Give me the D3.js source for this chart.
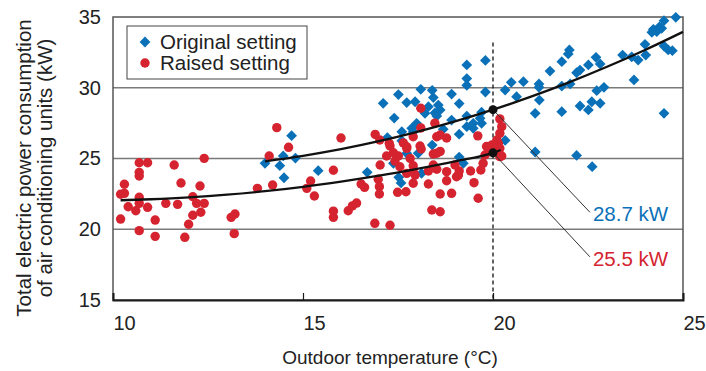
<!DOCTYPE html>
<html>
<head>
<meta charset="utf-8">
<script src="https://cdn.jsdelivr.net/npm/d3@7"></script>
<style>
  body { margin: 0; background: #fff; }
  svg { display: block; font-family: 'Liberation Sans', Arial, sans-serif; }
</style>
</head>
<body>
<svg id="chart"></svg>
<script>
// Original setting (outdoor temp °C, total power kW)
const originalX = [14.0, 14.48, 14.70, 14.80, 14.39, 14.50, 15.40, 16.69, 17.52, 17.58, 18.40, 19.11, 19.22, 20.32, 17.38, 17.73, 18.12,
  19.31, 19.80, 19.31, 19.31, 19.80, 20.32, 20.48, 20.62, 17.11, 17.51, 17.40, 17.73, 17.95, 18.10, 18.40, 18.43, 18.30, 18.56, 18.61,
  18.47, 18.52, 18.91, 19.11, 17.99, 17.86, 18.21, 18.69, 18.91, 19.11, 19.31, 19.48, 19.48, 19.70, 19.70, 19.66, 19.31, 17.60, 17.90,
  17.22, 17.60, 18.03,
  24.81, 24.50, 24.38, 24.22, 24.18, 24.31, 24.44, 24.50, 24.61, 24.72, 24.50, 24.00, 24.02, 23.82, 23.65, 23.41, 23.71, 22.82, 22.71,
  22.51, 22.29, 22.20, 22.01, 21.98, 21.81, 21.50, 20.80, 21.21, 21.21, 21.22, 21.11, 21.81, 22.03, 21.81, 22.29, 22.51, 22.60, 22.82,
  22.73, 22.92, 21.11, 22.20, 22.61];
const originalY = [24.66, 25.18, 26.61, 25.03, 24.49, 23.64, 24.14, 24.02, 23.67, 23.27, 25.95, 25.10, 24.66, 26.28, 24.66, 25.37, 23.95,
  31.61, 31.93, 30.65, 30.17, 29.70, 29.84, 30.38, 29.37, 28.90, 29.52, 27.86, 28.95, 29.01, 29.89, 29.82, 29.31, 28.66, 28.78, 28.43,
  28.22, 28.00, 29.55, 28.88, 27.49, 27.13, 28.19, 27.07, 27.72, 26.72, 27.25, 27.49, 27.13, 27.49, 28.27, 27.84, 28.00, 26.89, 26.89,
  26.48, 26.26, 25.37,
  34.98, 34.74, 34.31, 34.13, 33.92, 33.96, 34.20, 32.95, 32.67, 32.62, 28.19, 33.07, 32.31, 31.96, 32.19, 32.31, 30.55, 31.68, 32.15,
  31.61, 31.25, 31.06, 32.67, 32.39, 31.84, 31.18, 30.43, 30.27, 30.03, 29.13, 28.19, 30.12, 30.27, 28.31, 28.71, 28.43, 29.01, 28.90,
  29.79, 30.03, 25.46, 25.22, 24.42];

// Raised setting
const raisedX = [10.20, 10.20, 10.30, 10.30, 10.40, 10.60, 10.69, 10.91, 10.69, 10.69, 10.69, 10.69, 10.69, 10.91, 11.11, 11.11, 11.39,
  11.61, 11.70, 11.79, 11.89, 11.99, 12.10, 12.10, 12.20, 12.29, 12.31, 12.40, 12.40, 13.11, 13.21, 13.19, 13.80, 14.11, 14.20, 14.31,
  14.62, 15.20, 15.10, 15.30, 16.00, 15.80, 15.80, 15.80, 16.19, 16.30, 16.41, 16.53, 16.62, 16.89, 17.29, 16.90, 17.02, 17.27, 17.73,
  17.64, 18.10, 18.10, 18.47, 18.61, 18.78, 18.52, 18.11, 18.52, 19.60, 20.18, 20.23, 20.18, 20.10, 19.83, 20.01, 20.18, 20.23, 20.14,
  20.05, 17.03, 16.98, 17.01, 17.01, 17.49, 17.71, 17.90, 17.29, 17.38, 17.42, 17.51, 17.73, 17.82, 17.90, 18.08, 18.30, 18.30, 18.39,
  18.61, 18.61, 18.52, 18.61, 18.78, 18.91, 19.04, 19.11, 19.41, 19.50, 19.61, 19.68, 19.74, 19.97, 20.10, 20.18, 19.79, 17.20, 17.55,
  17.73, 17.95, 17.90, 18.43, 18.43, 18.78, 19.09, 19.00, 19.88, 17.90];
const raisedY = [20.72, 22.47, 23.18, 22.54, 21.59, 21.31, 24.70, 24.70, 24.02, 23.76, 22.26, 21.83, 19.90, 21.55, 20.65, 19.50, 21.83,
  24.54, 21.76, 23.27, 19.43, 20.35, 22.30, 20.99, 21.83, 23.06, 21.20, 25.01, 21.83, 20.84, 21.08, 19.69, 22.89, 25.18, 23.13, 27.18,
  25.79, 23.41, 22.89, 22.35, 26.45, 24.17, 21.28, 20.84, 21.31, 21.65, 21.85, 23.20, 22.96, 20.42, 20.28, 26.70, 26.31, 26.07, 25.83,
  26.10, 28.55, 27.16, 27.50, 26.66, 26.45, 26.54, 25.67, 25.37, 26.60, 27.80, 27.25, 26.78, 26.31, 25.85, 25.48, 25.72, 25.18, 26.07,
  25.72, 24.54, 23.53, 23.01, 22.49, 22.61, 22.65, 23.25, 25.88, 25.41, 24.82, 25.18, 25.72, 25.00, 24.07, 25.88, 24.12, 23.20, 21.36,
  21.24, 22.49, 24.24, 25.50, 23.43, 22.54, 23.71, 24.12, 24.12, 23.29, 22.19, 24.19, 24.66, 25.95, 25.48, 25.13, 25.25, 25.18, 24.42,
  23.95, 23.83, 24.49, 24.54, 25.32, 24.07, 23.83, 24.54, 25.48, 26.54];

// fitted curves
const curveOrigX = [14, 15, 16, 17, 18, 19, 20, 21, 22, 23, 24, 25];
const curveOrigY = [24.8, 25.19, 25.66, 26.22, 26.88, 27.62, 28.45, 29.37, 30.38, 31.48, 32.67, 33.95];
const curveRaisedX = [10.2, 11, 12, 13, 14, 15, 16, 17, 18, 19, 20, 20.2];
const curveRaisedY = [22.05, 22.12, 22.25, 22.44, 22.69, 23.0, 23.37, 23.79, 24.27, 24.8, 25.4, 25.6];

const xTicks = [10, 15, 20, 25];
const yTicks = [15, 20, 25, 30, 35];
const gridY = [20, 25, 30];

const markTemp = 20;
const markValues = [28.45, 25.4];
const markLabels = ['28.7 kW', '25.5 kW'];
const labelPoints = [[22.55, 21.2], [22.55, 18.05]];

const blue = '#0a71b9';
const red = '#d52430';

const width = 706, height = 371;
const margin = { top: 17, right: 23, bottom: 71, left: 113 };

const svg = d3.select('#chart')
  .attr('width', width)
  .attr('height', height);

const x = d3.scaleLinear().domain([10, 25]).range([margin.left, width - margin.right]);
const y = d3.scaleLinear().domain([15, 35]).range([height - margin.bottom, margin.top]);

// gridlines
svg.append('g')
  .selectAll('line')
  .data(gridY)
  .enter().append('line')
  .attr('x1', x(10)).attr('x2', x(25))
  .attr('y1', d => y(d)).attr('y2', d => y(d))
  .attr('stroke', '#7a7a7a')
  .attr('stroke-width', 1.5);

// frame
svg.append('rect')
  .attr('x', x(10)).attr('y', y(35))
  .attr('width', x(25) - x(10)).attr('height', y(15) - y(35))
  .attr('fill', 'none')
  .attr('stroke', '#555')
  .attr('stroke-width', 1.5);

const xAxis = svg.append('g')
  .attr('transform', 'translate(0,' + y(15) + ')')
  .call(d3.axisBottom(x).tickValues(xTicks).tickSize(-7).tickFormat(d3.format('d')));
xAxis.select('.domain').attr('stroke', '#1a1a1a').attr('stroke-width', 2);
xAxis.selectAll('.tick line').attr('stroke', '#1a1a1a').attr('stroke-width', 1.2);
xAxis.selectAll('.tick text')
  .attr('font-size', 20)
  .attr('fill', '#222')
  .attr('font-family', 'Liberation Sans, Arial, sans-serif')
  .attr('dx', 11)
  .attr('y', 16);

const yAxis = svg.append('g')
  .attr('transform', 'translate(' + x(10) + ',0)')
  .call(d3.axisLeft(y).tickValues(yTicks).tickSize(0).tickPadding(12).tickFormat(d3.format('d')));
yAxis.select('.domain').remove();
yAxis.selectAll('.tick text')
  .attr('font-size', 20)
  .attr('fill', '#222')
  .attr('font-family', 'Liberation Sans, Arial, sans-serif');

// vertical dashed line
svg.append('line')
  .attr('x1', x(markTemp)).attr('x2', x(markTemp))
  .attr('y1', y(33.2)).attr('y2', y(15))
  .attr('stroke', '#111')
  .attr('stroke-width', 1.3)
  .attr('stroke-dasharray', '4,3');

// points
const diamond = d3.symbol().type(d3.symbolSquare).size(58);
const orig = originalX.map((d, i) => ({ t: d, p: originalY[i] }));
const raised = raisedX.map((d, i) => ({ t: d, p: raisedY[i] }));

svg.append('g')
  .selectAll('path')
  .data(orig)
  .enter().append('path')
  .attr('d', diamond)
  .attr('transform', d => 'translate(' + x(d.t) + ',' + y(d.p) + ') rotate(45)')
  .attr('fill', blue);

svg.append('g')
  .selectAll('circle')
  .data(raised)
  .enter().append('circle')
  .attr('cx', d => x(d.t))
  .attr('cy', d => y(d.p))
  .attr('r', 4.7)
  .attr('fill', red);

// fitted curves
const line = d3.line().x(d => x(d[0])).y(d => y(d[1])).curve(d3.curveMonotoneX);
svg.append('path')
  .datum(curveOrigX.map((d, i) => [d, curveOrigY[i]]))
  .attr('d', line)
  .attr('fill', 'none')
  .attr('stroke', '#111')
  .attr('stroke-width', 2.3);
svg.append('path')
  .datum(curveRaisedX.map((d, i) => [d, curveRaisedY[i]]))
  .attr('d', line)
  .attr('fill', 'none')
  .attr('stroke', '#111')
  .attr('stroke-width', 2.3);

// leader lines, dots, labels
markValues.forEach((v, i) => {
  svg.append('line')
    .attr('x1', x(markTemp)).attr('y1', y(v))
    .attr('x2', x(labelPoints[i][0])).attr('y2', y(labelPoints[i][1]))
    .attr('stroke', '#333')
    .attr('stroke-width', 1);
  svg.append('circle')
    .attr('cx', x(markTemp)).attr('cy', y(v))
    .attr('r', 4.5)
    .attr('fill', '#111');
  svg.append('text')
    .attr('x', x(labelPoints[i][0]) + 3)
    .attr('y', y(labelPoints[i][1]) + 9)
    .attr('font-size', 20.5)
    .attr('fill', i === 0 ? blue : red)
    .text(markLabels[i]);
});

// legend
const legend = svg.append('g').attr('transform', 'translate(127,26)');
legend.append('rect')
  .attr('width', 180).attr('height', 53)
  .attr('fill', '#fff')
  .attr('stroke', '#444')
  .attr('stroke-width', 1);
legend.append('path')
  .attr('d', diamond)
  .attr('transform', 'translate(18,16) rotate(45)')
  .attr('fill', blue);
legend.append('circle')
  .attr('cx', 18).attr('cy', 37).attr('r', 4.7)
  .attr('fill', red);
legend.append('text').attr('x', 33).attr('y', 23).attr('font-size', 20.5).attr('fill', '#222').text('Original setting');
legend.append('text').attr('x', 33).attr('y', 44).attr('font-size', 20.5).attr('fill', '#222').text('Raised setting');

// axis titles
svg.append('text')
  .attr('x', 390).attr('y', 364)
  .attr('text-anchor', 'middle')
  .attr('font-size', 19)
  .attr('fill', '#222')
  .text('Outdoor temperature (°C)');

const yTitle = svg.append('text')
  .attr('transform', 'translate(0,168) rotate(-90)')
  .attr('text-anchor', 'middle')
  .attr('font-size', 20.5)
  .attr('fill', '#222');
yTitle.append('tspan').attr('x', 0).attr('y', 31).text('Total electric power consumption');
yTitle.append('tspan').attr('x', 0).attr('y', 52).text('of air conditioning units (kW)');
</script>
</body>
</html>
